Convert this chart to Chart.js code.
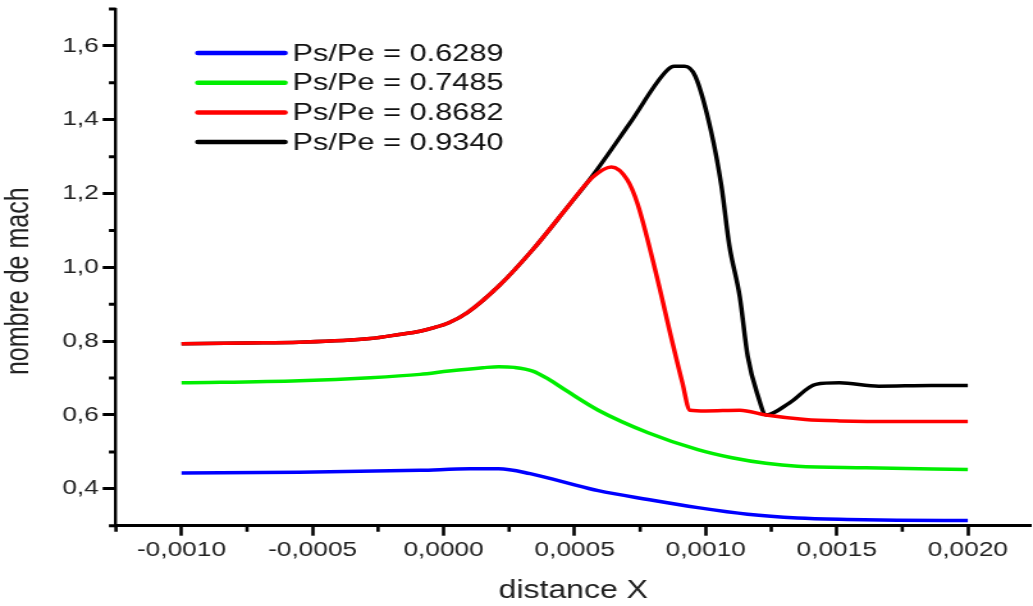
<!DOCTYPE html>
<html>
<head>
<meta charset="utf-8">
<script src="https://cdn.jsdelivr.net/npm/chart.js@4.4.1/dist/chart.umd.min.js"></script>
<style>
    html, body { margin: 0; padding: 0; background: #fff; overflow: hidden; }
    /* plot is laid out narrow and stretched sideways, like the exported figure */
    #wrap { width: 807px; height: 606px; transform: scaleX(1.28); transform-origin: 0 0; }
</style>
</head>
<body>
<div id="wrap"><canvas id="machChart"></canvas></div>
<script>
(function () {
    'use strict';

    const FONT = '"Liberation Sans", Arial, sans-serif';

    // Mach number along the nozzle wall for four pressure ratios
    const labels = ['Ps/Pe = 0.6289', 'Ps/Pe = 0.7485', 'Ps/Pe = 0.8682', 'Ps/Pe = 0.9340'];
    const colors = ['#0000ff', '#00ee00', '#ff0000', '#000000'];

    const blueX = [-0.00100, -0.00055, -0.00009, 0.00010, 0.00021, 0.00033, 0.00046, 0.00059,
        0.00078, 0.00097, 0.00116, 0.00135, 0.00154, 0.00173, 0.00200];
    const blueY = [0.443, 0.445, 0.450, 0.454, 0.454, 0.441, 0.418, 0.395,
        0.371, 0.349, 0.331, 0.321, 0.317, 0.315, 0.314];

    const greenX = [-0.00100, -0.00055, -0.00028, -0.00009, 0.00002, 0.00015, 0.00021, 0.00027,
        0.00034, 0.00040, 0.00047, 0.00059, 0.00078, 0.00097, 0.00110, 0.00123, 0.00135, 0.00161, 0.00200];
    const greenY = [0.687, 0.693, 0.701, 0.710, 0.719, 0.728, 0.731, 0.729,
        0.719, 0.697, 0.665, 0.613, 0.552, 0.506, 0.484, 0.469, 0.461, 0.457, 0.452];

    const redX = [-0.00100, -0.00075, -0.00055, -0.00028, -0.00017, -0.00009, -0.00004, 0.00002,
        0.00009, 0.00021, 0.00034, 0.00047, 0.00057, 0.00064, 0.00070, 0.00074, 0.00081, 0.00087,
        0.00091, 0.00094, 0.00100, 0.00113, 0.00123, 0.00138, 0.00151, 0.00173, 0.00200];
    const redY = [0.793, 0.795, 0.797, 0.807, 0.818, 0.827, 0.836, 0.850,
        0.877, 0.949, 1.048, 1.161, 1.245, 1.272, 1.238, 1.172, 0.985, 0.805,
        0.690, 0.613, 0.611, 0.613, 0.600, 0.588, 0.584, 0.582, 0.582];

    const blackX = [-0.00100, -0.00075, -0.00055, -0.00028, -0.00017, -0.00009, -0.00004, 0.00002,
        0.00009, 0.00021, 0.00034, 0.00047, 0.00057, 0.00071, 0.00085, 0.00088, 0.00092, 0.00096,
        0.00102, 0.00106, 0.00109, 0.00113, 0.00116, 0.00120, 0.00123, 0.00132, 0.00142, 0.00151,
        0.00166, 0.00186, 0.00200];
    const blackY = [0.793, 0.795, 0.797, 0.807, 0.818, 0.827, 0.836, 0.850,
        0.877, 0.949, 1.048, 1.161, 1.250, 1.390, 1.532, 1.545, 1.545, 1.518,
        1.370, 1.220, 1.060, 0.920, 0.760, 0.650, 0.600, 0.633, 0.683, 0.687,
        0.678, 0.680, 0.680];

    const seriesX = [blueX, greenX, redX, blackX];
    const seriesY = [blueY, greenY, redY, blackY];

    // axis limits, labelled ticks and the unlabelled half-step ticks
    const xMin = -0.00125, xMax = 0.00224;
    const yMin = 0.3, yMax = 1.7;
    const xTicks = [-0.0010, -0.0005, 0, 0.0005, 0.0010, 0.0015, 0.0020];
    const yTicks = [0.4, 0.6, 0.8, 1.0, 1.2, 1.4, 1.6];
    const xMinorTicks = [-0.00125, -0.00075, -0.00025, 0.00025, 0.00075, 0.00125, 0.00175];
    const yMinorTicks = [0.3, 0.5, 0.7, 0.9, 1.1, 1.3, 1.5, 1.7];

    function commaFixed(v, digits) {
        if (Math.abs(v) < 1e-12) v = 0;
        return v.toFixed(digits).replace('.', ',');
    }

    // short ticks halfway between the labelled ones
    const minorTicks = {
        id: 'minorTicks',
        afterDraw(chart) {
            const ctx = chart.ctx;
            const xs = chart.scales.x, ys = chart.scales.y;
            ctx.save();
            ctx.strokeStyle = '#000';
            ctx.lineWidth = 2.6;
            ctx.beginPath();
            xMinorTicks.forEach(v => {
                if (v < xs.min || v > xs.max) return;
                const px = xs.getPixelForValue(v);
                ctx.moveTo(px, xs.top);
                ctx.lineTo(px, xs.top + 6);
            });
            ctx.stroke();
            ctx.lineWidth = 3;
            ctx.beginPath();
            yMinorTicks.forEach(v => {
                const py = ys.getPixelForValue(v);
                ctx.moveTo(ys.right, py);
                ctx.lineTo(ys.right - 5.5, py);
            });
            ctx.stroke();
            ctx.restore();
        }
    };

    // legend sitting inside the plot, upper left
    const insideLegend = {
        id: 'insideLegend',
        afterDraw(chart) {
            const ctx = chart.ctx, area = chart.chartArea;
            const x0 = area.left + 64;
            ctx.save();
            ctx.font = '24px ' + FONT;
            ctx.textBaseline = 'middle';
            ctx.lineCap = 'round';
            chart.data.datasets.forEach((ds, i) => {
                const yy = area.top + 44 + i * 29.7;
                ctx.strokeStyle = ds.borderColor;
                ctx.lineWidth = 4.5;
                ctx.beginPath();
                ctx.moveTo(x0, yy);
                ctx.lineTo(x0 + 68, yy);
                ctx.stroke();
                ctx.fillStyle = '#111';
                ctx.fillText(ds.label, x0 + 74, yy + 1);
            });
            ctx.restore();
        }
    };

    const datasets = labels.map((label, i) => ({
        label: label,
        data: seriesX[i].map((x, j) => ({ x: x, y: seriesY[i][j] })),
        borderColor: colors[i],
        backgroundColor: colors[i],
        borderWidth: 3.5,
        pointRadius: 0,
        fill: false,
        cubicInterpolationMode: 'monotone'
    }));

    new Chart(document.getElementById('machChart'), {
        type: 'line',
        data: { datasets: datasets },
        options: {
            responsive: true,
            maintainAspectRatio: false,
            animation: false,
            layout: { padding: { top: 9, right: 0, bottom: 0, left: 0 } },
            plugins: {
                legend: { display: false },
                tooltip: { enabled: false }
            },
            scales: {
                x: {
                    type: 'linear',
                    min: xMin,
                    max: xMax,
                    afterBuildTicks: scale => { scale.ticks = xTicks.map(v => ({ value: v })); },
                    afterFit: scale => {
                        scale.height = 80.3;
                        scale.paddingLeft = 0;
                        scale.paddingRight = 0;
                    },
                    border: { display: true, color: '#000', width: 3 },
                    grid: { drawOnChartArea: false, drawTicks: true, tickLength: 10, tickWidth: 2.6, tickColor: '#000' },
                    ticks: {
                        padding: 2,
                        color: '#222',
                        font: { family: FONT, size: 20.5 },
                        maxRotation: 0,
                        autoSkip: false,
                        callback: v => commaFixed(v, 4)
                    },
                    title: {
                        display: true,
                        text: 'distance X',
                        color: '#222',
                        font: { family: FONT, size: 25 },
                        padding: { top: 0, bottom: 0 }
                    }
                },
                y: {
                    min: yMin,
                    max: yMax,
                    afterBuildTicks: scale => { scale.ticks = yTicks.map(v => ({ value: v })); },
                    afterFit: scale => {
                        scale.width = 90.6;
                        scale.paddingTop = 0;
                        scale.paddingBottom = 0;
                    },
                    border: { display: true, color: '#000', width: 2.4 },
                    grid: { drawOnChartArea: false, drawTicks: true, tickLength: 10.4, tickWidth: 3, tickColor: '#000' },
                    ticks: {
                        padding: 3,
                        color: '#222',
                        font: { family: FONT, size: 20.5 },
                        autoSkip: false,
                        callback: v => commaFixed(v, 1)
                    },
                    title: {
                        display: true,
                        // trailing spaces push the label a little below the axis centre
                        text: 'nombre de mach    ',
                        color: '#222',
                        font: { family: FONT, size: 25 },
                        padding: { top: 0, bottom: 0 }
                    }
                }
            }
        },
        plugins: [minorTicks, insideLegend]
    });
})();
</script>
</body>
</html>
